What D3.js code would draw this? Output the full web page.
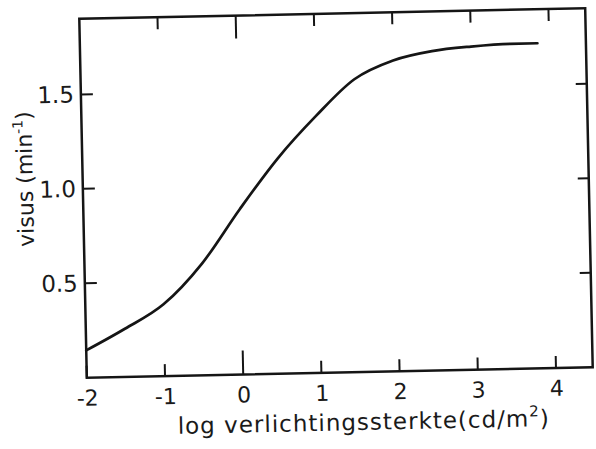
<!DOCTYPE html>
<meta charset="utf-8" />
<script src="https://d3js.org/d3.v7.min.js"></script>
<style>
  body { margin: 0; background: #fff; }
  text { font-family: "DejaVu Sans", sans-serif; fill: #1a1a1a; }
</style>
<body>
  <div id="chart"></div>
  <script>
    // curve
    var logLuminance = [-2, -1.5, -1, -0.5, 0, 0.5, 1, 1.5, 2, 2.5, 3, 3.5, 3.85];
    var visus = [0.145, 0.255, 0.38, 0.59, 0.875, 1.14, 1.36, 1.55, 1.645, 1.69, 1.71, 1.72, 1.72];

    var xTicks = [-2, -1, 0, 1, 2, 3, 4];
    var xTickLabels = ["-2", "-1", "0", "1", "2", "3", "4"];
    var yTicks = [0.5, 1.0, 1.5];
    var yTickLabels = ["0.5", "1.0", "1.5"];

    var data = logLuminance.map(function (d, i) {
      return { x: d, y: visus[i] };
    });

    var margin = { top: 13.5, left: 83 },
      width = 506,
      height = 359;

    var svg = d3
      .select("#chart")
      .append("svg")
      .attr("width", 596)
      .attr("height", 449);

    // the scan is a little tilted, so the whole figure is turned a bit
    var g = svg
      .append("g")
      .attr("transform", "rotate(-1.2,336,193) translate(" + margin.left + "," + margin.top + ")");

    var x = d3.scaleLinear().domain([-2, 4.47]).range([0, width]);
    var y = d3.scaleLinear().domain([0, 1.9]).range([height, 0]);

    var ink = "#151515";

    // frame first, so nothing else ends up underneath it
    g.append("path")
      .attr("d", "M0,0H" + width + "V" + height + "H0Z")
      .attr("fill", "none")
      .attr("stroke", ink)
      .attr("stroke-width", 2.5);

    // axes give the labels
    var xb = g
      .append("g")
      .attr("transform", "translate(0," + height + ")")
      .call(
        d3.axisBottom(x).tickValues(xTicks).tickSize(0)
          .tickFormat(function (d, i) { return xTickLabels[i]; })
      );
    xb.selectAll("text").attr("y", 28).attr("dy", 0).style("font-size", "22px");

    var yl = g
      .append("g")
      .call(
        d3.axisLeft(y).tickValues(yTicks).tickSize(0)
          .tickFormat(function (d, i) { return yTickLabels[i]; })
      );
    yl.selectAll("text").attr("x", -7).style("font-size", "23px");

    g.selectAll(".domain").remove();
    g.selectAll(".tick line").remove();
    g.selectAll(".tick text").attr("fill", ink);

    // inward tick marks on all four sides (the 0 ticks are longer)
    var ticks = g.append("g")
      .attr("fill", "none")
      .attr("stroke", ink)
      .attr("stroke-width", 2);
    ticks.selectAll(".tb")
      .data(xTicks)
      .join("path")
      .attr("d", function (d) { return "M" + x(d) + "," + height + "v" + (d === 0 ? -24 : -12); });
    ticks.selectAll(".tt")
      .data(xTicks.slice(1))
      .join("path")
      .attr("d", function (d) { return "M" + x(d) + ",0v" + (d === 0 ? 23 : 12); });
    ticks.selectAll(".tl")
      .data(yTicks)
      .join("path")
      .attr("d", function (d) { return "M0," + y(d) + "h12"; });
    ticks.selectAll(".tr")
      .data(yTicks)
      .join("path")
      .attr("d", function (d) { return "M" + width + "," + y(d) + "h-11"; });

    // curve
    var line = d3
      .line()
      .x(function (d) { return x(d.x); })
      .y(function (d) { return y(d.y); })
      .curve(d3.curveMonotoneX);

    g.append("path")
      .datum(data)
      .attr("d", line)
      .attr("fill", "none")
      .attr("stroke", ink)
      .attr("stroke-width", 2.7)
      .attr("stroke-linecap", "round");

    // axis titles
    var xt2 = g
      .append("text")
      .attr("x", 276)
      .attr("y", height + 58)
      .attr("text-anchor", "middle")
      .style("font-size", "23px")
      .style("letter-spacing", "1px");
    xt2.append("tspan").text("log verlichtingssterkte(cd/m");
    xt2.append("tspan").attr("dy", -10).style("font-size", "15px").text("2");
    xt2.append("tspan").attr("dy", 10).text(")");

    var yt = g
      .append("text")
      .attr("transform", "translate(-50,159) rotate(-90)")
      .attr("text-anchor", "middle")
      .style("font-size", "22px");
    yt.append("tspan").text("visus (min");
    yt.append("tspan").attr("dy", -9).style("font-size", "14px").text("-1");
    yt.append("tspan").attr("dy", 9).text(")");
  </script>
</body>
